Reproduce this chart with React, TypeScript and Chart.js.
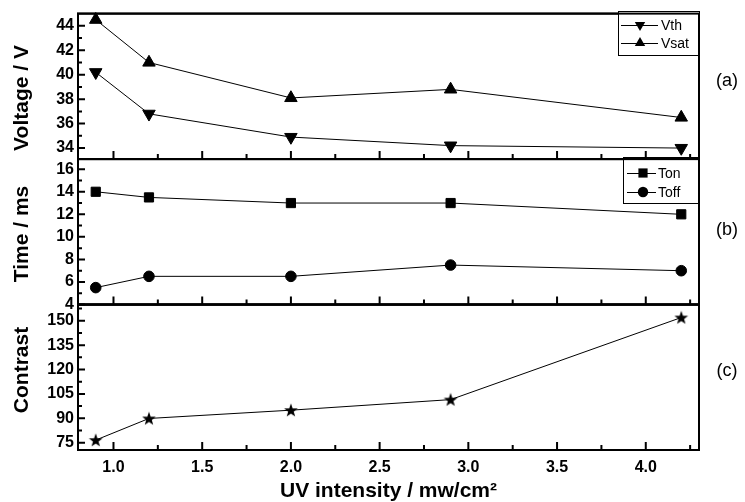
import React, { useEffect, useRef } from "react";
import { Chart, registerables } from "chart.js";

Chart.register(...registerables);

// ---- data ----
const uvIntensity = [0.9, 1.2, 2.0, 2.9, 4.2];
const vthValues = [40.2, 36.8, 34.9, 34.2, 34.0];
const vsatValues = [44.5, 41.0, 38.1, 38.8, 36.5];
const tonValues = [14.0, 13.5, 13.0, 13.0, 12.0];
const toffValues = [5.5, 6.5, 6.5, 7.5, 7.0];
const contrastValues = [76.6, 89.9, 95.0, 101.5, 152.0];

// ---- ticks ----
const xMajorTicks = [1.0, 1.5, 2.0, 2.5, 3.0, 3.5, 4.0];
const xMinorTicks = [1.25, 1.75, 2.25, 2.75, 3.25, 3.75, 4.25];
const voltageTicks = [34, 36, 38, 40, 42, 44];
const voltageMinorTicks = [35, 37, 39, 41, 43];
const timeTicks = [4, 6, 8, 10, 12, 14, 16];
const timeMinorTicks = [5, 7, 9, 11, 13, 15];
const contrastTicks = [75, 90, 105, 120, 135, 150];
const contrastMinorTicks = [82.5, 97.5, 112.5, 127.5, 142.5, 157.5];

const FONT = "'Liberation Sans', Arial, Helvetica, sans-serif";

function makeStar(): HTMLCanvasElement {
  const c = document.createElement("canvas");
  c.width = 16;
  c.height = 16;
  const g = c.getContext("2d")!;
  g.fillStyle = "#000";
  g.beginPath();
  for (let i = 0; i < 10; i++) {
    const r = i % 2 === 0 ? 7.2 : 2.9;
    const a = -Math.PI / 2 + (i * Math.PI) / 5;
    const px = 8 + r * Math.cos(a);
    const py = 8.5 + r * Math.sin(a);
    if (i === 0) g.moveTo(px, py);
    else g.lineTo(px, py);
  }
  g.closePath();
  g.fill();
  return c;
}

function drawMarker(ctx: CanvasRenderingContext2D, kind: string, x: number, y: number, r: number) {
  ctx.beginPath();
  if (kind === "up" || kind === "down") {
    const s = kind === "up" ? 1 : -1;
    ctx.moveTo(x, y - s * r);
    ctx.lineTo(x + r * 0.866, y + s * r * 0.5);
    ctx.lineTo(x - r * 0.866, y + s * r * 0.5);
    ctx.closePath();
  } else if (kind === "square") {
    ctx.rect(x - r, y - r, 2 * r, 2 * r);
  } else {
    ctx.arc(x, y, r, 0, Math.PI * 2);
  }
  ctx.fill();
}

const panels = [
  { id: "ya", major: voltageTicks, minor: voltageMinorTicks, title: "Voltage / V", titleY: 98, tag: "(a)", tagY: 81 },
  { id: "yb", major: timeTicks, minor: timeMinorTicks, title: "Time / ms", titleY: 234, tag: "(b)", tagY: 230 },
  { id: "yc", major: contrastTicks, minor: contrastMinorTicks, title: "Contrast", titleY: 370, tag: "(c)", tagY: 371 },
];

const legends = [
  { box: [618, 11, 699, 55], line: [621, 658], marker: 640, text: 661, rows: [{ y: 25, kind: "down", label: "Vth", r: 6 }, { y: 43, kind: "up", label: "Vsat", r: 6 }] },
  { box: [623, 157, 699, 203], line: [627, 656], marker: 643, text: 658, rows: [{ y: 173, kind: "square", label: "Ton", r: 4.6 }, { y: 192, kind: "circle", label: "Toff", r: 5.2 }] },
];

const panelPlugin = {
  id: "panelPlugin",
  afterDraw(chart: any) {
    const ctx: CanvasRenderingContext2D = chart.ctx;
    const xs = chart.scales.x;
    const { left, right } = chart.chartArea;
    ctx.save();
    ctx.strokeStyle = "#000";
    ctx.fillStyle = "#000";
    for (const p of panels) {
      const s = chart.scales[p.id];
      ctx.lineWidth = 2;
      ctx.strokeRect(left, s.top, right - left, s.bottom - s.top);
      ctx.beginPath();
      for (const v of p.major) {
        const py = s.getPixelForValue(v);
        ctx.moveTo(left, py);
        ctx.lineTo(left + 7, py);
      }
      for (const v of p.minor) {
        const py = s.getPixelForValue(v);
        if (py <= s.top + 1 || py >= s.bottom - 1) continue;
        ctx.moveTo(left, py);
        ctx.lineTo(left + 4, py);
      }
      for (const v of xMajorTicks) {
        const px = xs.getPixelForValue(v);
        ctx.moveTo(px, s.bottom);
        ctx.lineTo(px, s.bottom - 8);
      }
      for (const v of xMinorTicks) {
        const px = xs.getPixelForValue(v);
        ctx.moveTo(px, s.bottom);
        ctx.lineTo(px, s.bottom - 5);
      }
      ctx.stroke();

      // axis title
      ctx.save();
      ctx.translate(22, p.titleY);
      ctx.rotate(-Math.PI / 2);
      ctx.font = `bold 21px ${FONT}`;
      ctx.textAlign = "center";
      ctx.textBaseline = "middle";
      ctx.fillText(p.title, 0, 0);
      ctx.restore();

      // panel tag
      ctx.font = `18px ${FONT}`;
      ctx.textAlign = "center";
      ctx.textBaseline = "middle";
      ctx.fillText(p.tag, 727, p.tagY);
    }

    // legends
    for (const lg of legends) {
      ctx.fillStyle = "#fff";
      ctx.fillRect(lg.box[0], lg.box[1], lg.box[2] - lg.box[0], lg.box[3] - lg.box[1]);
      ctx.lineWidth = 1;
      ctx.strokeRect(lg.box[0] + 0.5, lg.box[1] + 0.5, lg.box[2] - lg.box[0], lg.box[3] - lg.box[1]);
      ctx.fillStyle = "#000";
      for (const row of lg.rows) {
        ctx.beginPath();
        ctx.moveTo(lg.line[0], row.y + 0.5);
        ctx.lineTo(lg.line[1], row.y + 0.5);
        ctx.stroke();
        drawMarker(ctx, row.kind, lg.marker, row.y, row.r);
        ctx.font = `14px ${FONT}`;
        ctx.textAlign = "left";
        ctx.textBaseline = "middle";
        ctx.fillText(row.label, lg.text, row.y + 1);
      }
    }
    // redraw panel (a)/(b) frames on top of legend boxes
    ctx.lineWidth = 2;
    for (const p of panels) {
      const s = chart.scales[p.id];
      ctx.strokeRect(left, s.top, right - left, s.bottom - s.top);
    }
    ctx.restore();
  },
};

function yScale(min: number, max: number, ticks: number[], weight: number) {
  return {
    type: "linear" as const,
    position: "left" as const,
    stack: "panels",
    stackWeight: 1,
    weight,
    min,
    max,
    grid: { display: false, drawTicks: false },
    border: { display: false },
    afterBuildTicks: (s: any) => {
      s.ticks = ticks.map((v) => ({ value: v }));
    },
    afterFit: (s: any) => {
      s.width = 78;
    },
    ticks: {
      autoSkip: false,
      padding: 4,
      color: "#000",
      font: { family: FONT, size: 16, weight: "bold" as const },
      callback: (v: any) => String(v),
    },
  };
}

export default function App() {
  const ref = useRef<HTMLCanvasElement | null>(null);

  useEffect(() => {
    const canvas = ref.current;
    if (!canvas) return;
    const star = makeStar();
    const pts = (ys: number[]) => uvIntensity.map((x, i) => ({ x, y: ys[i] }));
    const base = {
      borderColor: "#000",
      backgroundColor: "#000",
      borderWidth: 1,
      pointBackgroundColor: "#000",
      pointBorderColor: "#000",
      pointBorderWidth: 1,
      clip: false as const,
      tension: 0,
      fill: false,
    };
    const chart = new Chart(canvas, {
      type: "line",
      data: {
        datasets: [
          { ...base, label: "Vth", data: pts(vthValues), yAxisID: "ya", pointStyle: "triangle", pointRotation: 180, pointRadius: 7.2 },
          { ...base, label: "Vsat", data: pts(vsatValues), yAxisID: "ya", pointStyle: "triangle", pointRadius: 7.2 },
          { ...base, label: "Ton", data: pts(tonValues), yAxisID: "yb", pointStyle: "rect", pointRadius: 6.5 },
          { ...base, label: "Toff", data: pts(toffValues), yAxisID: "yb", pointStyle: "circle", pointRadius: 5.3 },
          { ...base, label: "Contrast", data: pts(contrastValues), yAxisID: "yc", pointStyle: star as any, pointRadius: 8 },
        ],
      },
      options: {
        animation: false,
        responsive: false,
        devicePixelRatio: 1,
        layout: { padding: { left: 0, top: 11, right: 46, bottom: 0 } },
        plugins: { legend: { display: false }, tooltip: { enabled: false } },
        scales: {
          x: {
            type: "linear",
            min: 0.8,
            max: 4.3,
            grid: { display: false, drawTicks: false },
            border: { display: false },
            afterBuildTicks: (s: any) => {
              s.ticks = xMajorTicks.map((v) => ({ value: v }));
            },
            afterFit: (s: any) => {
              s.height = 52;
            },
            ticks: {
              autoSkip: false,
              maxRotation: 0,
              padding: 8,
              color: "#000",
              font: { family: FONT, size: 16, weight: "bold" },
              callback: (v: any) => Number(v).toFixed(1),
            },
            title: {
              display: true,
              text: "UV intensity / mw/cm\u00B2",
              color: "#000",
              font: { family: FONT, size: 21, weight: "bold" },
              padding: { top: 0, bottom: -2 },
            },
          },
          ya: yScale(33.1, 45.0, voltageTicks, 3),
          yb: yScale(4, 16.9, timeTicks, 2),
          yc: yScale(70.5, 160, contrastTicks, 1),
        },
      },
      plugins: [panelPlugin],
    } as any);
    return () => chart.destroy();
  }, []);

  return (
    <div style={{ position: "absolute", left: 0, top: 0, width: 745, height: 502, background: "#fff" }}>
      <canvas ref={ref} width={745} height={502} style={{ width: 745, height: 502, display: "block" }} />
    </div>
  );
}
